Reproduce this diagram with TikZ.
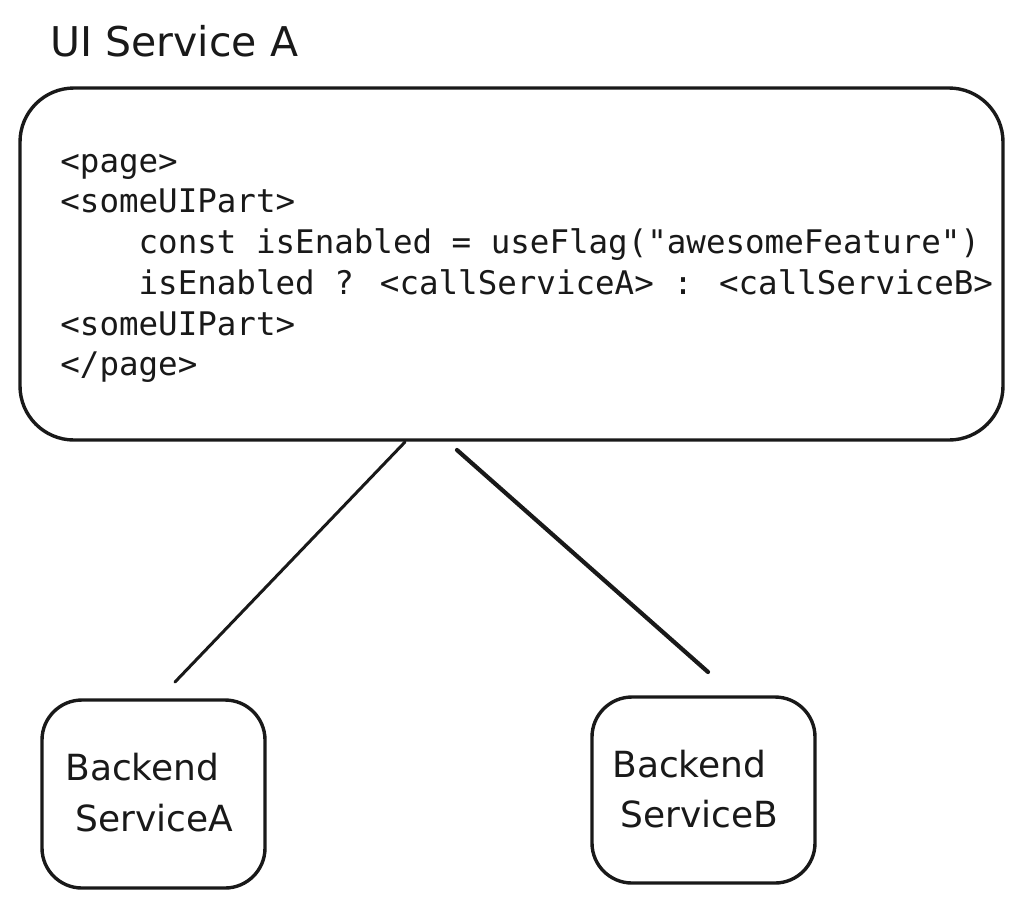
\documentclass[tikz,border=0pt]{standalone}
\usepackage{fontspec}
\newfontfamily\codefont{DejaVu Sans Mono}
\newfontfamily\handfont{DejaVu Sans}
\tikzset{
  box/.style={draw=black!90, line width=1.7pt, fill=white, inner sep=0pt},
  codeline/.style={anchor=base west, inner sep=0pt, font=\codefont\fontsize{16.25}{20}\selectfont, text=black!90},
  handtext/.style={anchor=base west, inner sep=0pt, font=\handfont\fontsize{18}{22}\selectfont, text=black!90},
  link/.style={draw=black!90, line width=1.5pt, line cap=round}
}
\begin{document}
\begin{tikzpicture}[x=0.5pt,y=-0.5pt]
\useasboundingbox[fill=white] (0,0) rectangle (1033,907);
% main UI box
\node[box, rounded corners=27pt, minimum width=491.5pt, minimum height=176pt] (ui) at (511.5,264) {};
\node[handtext, font=\handfont\fontsize{20.5}{24}\selectfont] (title) at (50,56) {UI Service A};
% code
\node[codeline] (c1) at (60,172) {<page>};
\node[codeline] (c2) at (60,212) {<someUIPart>};
\node[codeline] (c3) at (60,253) {\ \ \ \ const isEnabled = useFlag("awesomeFeature")};
\node[codeline] (c4) at (60,294) {\ \ \ \ isEnabled ? <callServiceA> : <callServiceB>};
\node[codeline] (c5) at (60,335) {<someUIPart>};
\node[codeline] (c6) at (60,375) {</page>};
% backend boxes
\node[box, rounded corners=20pt, minimum width=111.5pt, minimum height=94pt] (ba) at (153.5,794) {};
\node[box, rounded corners=20pt, minimum width=111.5pt, minimum height=93pt] (bb) at (703.5,790) {};
\node[handtext] (bat1) at (65,780) {Backend};
\node[handtext] (bat2) at (75,831) {ServiceA};
\node[handtext] (bbt1) at (612,777) {Backend};
\node[handtext] (bbt2) at (620,827) {ServiceB};
% connectors
\coordinate (la) at (405,442);
\coordinate (lb) at (175,682);
\coordinate (ra) at (457,450);
\coordinate (rb) at (708,672);
\draw[link] (la) -- (lb);
\draw[link, line width=2.1pt] (ra) -- (rb);
\end{tikzpicture}
\end{document}
